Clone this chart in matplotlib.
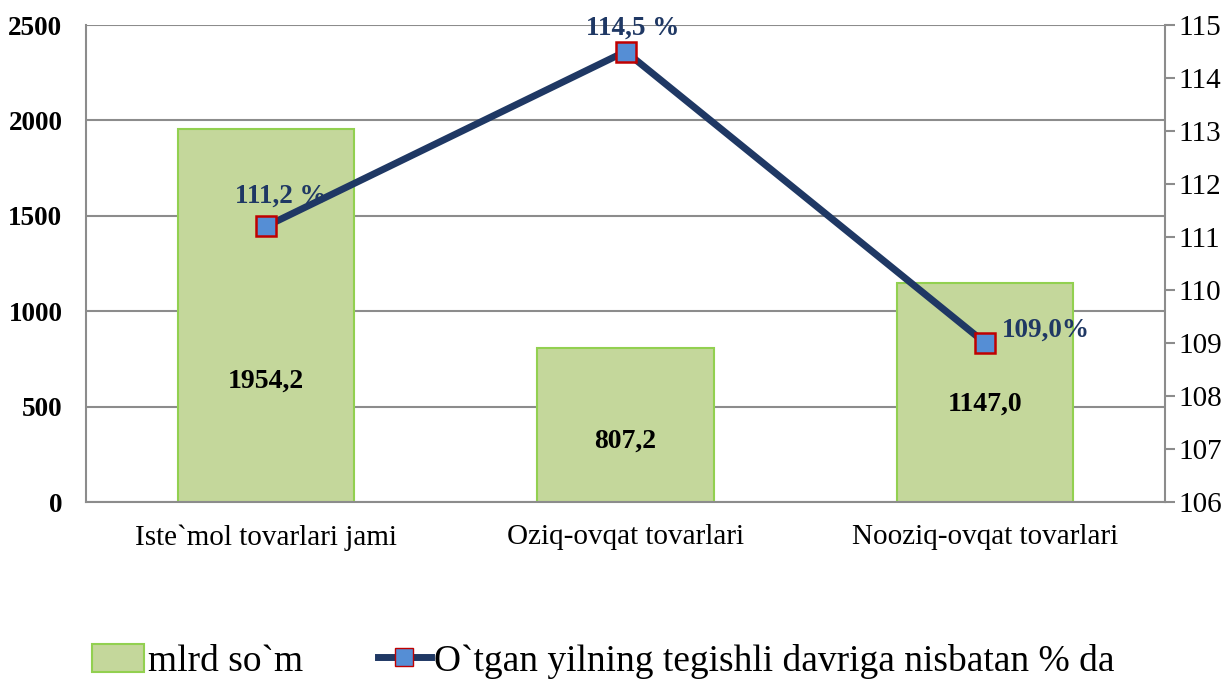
import matplotlib
matplotlib.use("Agg")
import matplotlib.pyplot as plt
from matplotlib.lines import Line2D
from matplotlib.patches import Patch

plt.rcParams['font.family'] = ['Liberation Serif', 'DejaVu Serif']

categories = ["Iste`mol tovarlari jami", "Oziq-ovqat tovarlari", "Nooziq-ovqat tovarlari"]
values = [1954.2, 807.2, 1147.0]
value_labels = ["1954,2", "807,2", "1147,0"]
pct = [111.2, 114.5, 109.0]
pct_labels = ["111,2 %", "114,5 %", "109,0%"]
bar_name = "mlrd so`m"
line_name = "O`tgan yilning tegishli davriga nisbatan % da"

fig = plt.figure(figsize=(12.31, 6.91), dpi=100)
ax = fig.add_axes([0.0699, 0.2735, 0.8765, 0.6903])
ax2 = ax.twinx()

grid_c = "#8C8C8C"
x = list(range(len(categories)))
ax.bar(x, values, width=0.49, color="#C4D79B", edgecolor="#92D050", linewidth=1.5, zorder=2)
ax.set_xlim(-0.5, 2.5)
ax.set_ylim(0, 2500)
ax.set_yticks(range(0, 2501, 500))
ax.yaxis.grid(True, color=grid_c, linewidth=1.5, zorder=0)
ax.set_axisbelow(True)
ax.tick_params(axis='y', length=0, pad=17, labelsize=19.5)
for t in ax.get_yticklabels():
    t.set_fontweight('bold')
ax.set_xticks(x)
ax.set_xticklabels(categories, fontsize=21)
ax.tick_params(axis='x', length=0, pad=16)
for s in ["top", "right"]:
    ax.spines[s].set_visible(False)
for s in ["left", "bottom"]:
    ax.spines[s].set_color(grid_c)
    ax.spines[s].set_linewidth(1.5)

label_y = [634, 320, 514]
for xi, ly, lab in zip(x, label_y, value_labels):
    ax.text(xi, ly, lab, ha='center', va='center', fontsize=20, fontweight='bold', color='black', zorder=5)

ax2.plot(x, pct, color="#1F3864", linewidth=5, marker='s', markersize=14,
         markerfacecolor="#558ED5", markeredgecolor="#C00000", markeredgewidth=1.8, zorder=4)
ax2.set_ylim(106, 115)
ax2.set_yticks(range(106, 116))
ax2.tick_params(axis='y', direction='out', length=7, width=1.5, color=grid_c, labelsize=21, pad=3)
for s in ["top", "left", "bottom"]:
    ax2.spines[s].set_visible(False)
ax2.spines["right"].set_color(grid_c)
ax2.spines["right"].set_linewidth(1.5)

offsets = [(11, 21.5, 'center'), (5, 16.5, 'center'), (12, 9, 'left')]
for xi, p, lab, (dx, dy, ha) in zip(x, pct, pct_labels, offsets):
    ax2.annotate(lab, (xi, p), xytext=(dx, dy), textcoords='offset points', ha=ha, va='center',
                 fontsize=19.5, fontweight='bold', color="#1F3864", zorder=6)

handles = [Patch(facecolor="#C4D79B", edgecolor="#92D050", linewidth=1.5),
           Line2D([0], [0], color="#1F3864", linewidth=5, marker='s', markersize=13,
                  markerfacecolor="#558ED5", markeredgecolor="#C00000")]
fig.legend(handles, [bar_name, line_name], loc='center', bbox_to_anchor=(0.49, 0.043), ncol=2,
           frameon=False, fontsize=27, handlelength=1.4, handleheight=0.8, handletextpad=0.1,
           columnspacing=2.0)

fig.savefig("out.png", dpi=100)
